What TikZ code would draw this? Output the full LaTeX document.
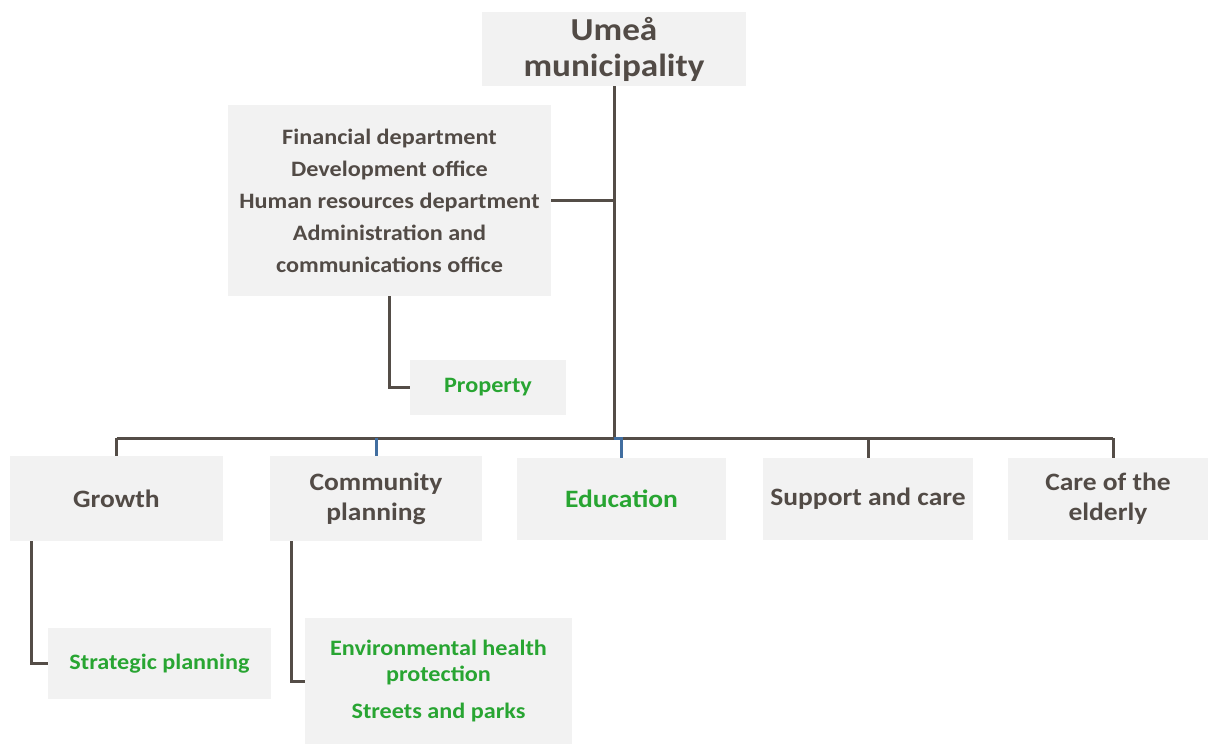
\documentclass[tikz,border=0pt]{standalone}
\usepackage{fontspec}
\setmainfont{Carlito}[FakeStretch=1.1]
\usetikzlibrary{calc}
\definecolor{boxfill}{RGB}{242,242,242}
\definecolor{txt}{RGB}{82,75,70}
\definecolor{grn}{RGB}{40,165,50}
\definecolor{lne}{RGB}{84,77,71}
\definecolor{blu}{RGB}{65,110,160}
\begin{document}
\begin{tikzpicture}[x=1pt,y=-1pt,
  orgbox/.style={fill=boxfill,inner sep=0pt,align=center,font=\bfseries\fontsize{25}{30}\selectfont,text=txt},
  greenbox/.style={orgbox,text=grn,font=\bfseries\fontsize{22}{26}\selectfont},
  link/.style={draw=lne,line width=3pt},
  bluelink/.style={draw=blu,line width=3pt}]
\useasboundingbox (0,0) rectangle (1208,744);
\node[orgbox,minimum width=264pt,minimum height=74pt,font=\bfseries\fontsize{32}{36}\selectfont] (top) at (614,49) {Umeå\\municipality};
\node[orgbox,minimum width=323pt,minimum height=191pt,font=\bfseries\fontsize{22}{32}\selectfont] (list) at (389.5,200.5) {Financial department\\Development office\\Human resources department\\Administration and\\communications office};
\node[greenbox,minimum width=156pt,minimum height=55pt] (prop) at (488,387.5) {Property};
\node[orgbox,minimum width=213pt,minimum height=85pt] (growth) at (116.5,498.5) {Growth};
\node[orgbox,minimum width=212pt,minimum height=85pt] (comm) at (376,498.5) {Community\\planning};
\node[orgbox,text=grn,minimum width=209pt,minimum height=82pt] (edu) at (621.5,499) {Education};
\node[orgbox,minimum width=210pt,minimum height=82pt] (supp) at (868,499) {Support and care};
\node[orgbox,minimum width=200pt,minimum height=82pt] (eld) at (1108,499) {Care of the\\elderly};
\node[greenbox,minimum width=223pt,minimum height=71pt] (strat) at (159.5,663.5) {Strategic planning};
\node[greenbox,minimum width=267pt,minimum height=126pt] (env) at (438.5,681) {Environmental health\\protection\\[11pt]Streets and parks};
\coordinate (j) at (614,438);
\coordinate (eldtop) at ($(eld.north)+(5,0)$);
% connectors
\draw[link] (top.south) -- (j);
\draw[link] (list.east) -- (list.east -| top.south);
\draw[link] (growth.north |- j) -- (eldtop |- j);
\draw[link] (growth.north |- j) -- (growth.north);
\draw[bluelink] (comm.north |- j) -- (comm.north);
\draw[bluelink,line join=miter] (j) -- (edu.north |- j) -- (edu.north);
\draw[link] (supp.north |- j) -- (supp.north);
\draw[link] (eldtop |- j) -- (eldtop);
\draw[link] (list.south) |- (prop.west);
\draw[link] ($(growth.south west)+(22,0)$) |- (strat.west);
\draw[link] ($(comm.south west)+(22,0)$) |- (env.west);
\end{tikzpicture}
\end{document}
